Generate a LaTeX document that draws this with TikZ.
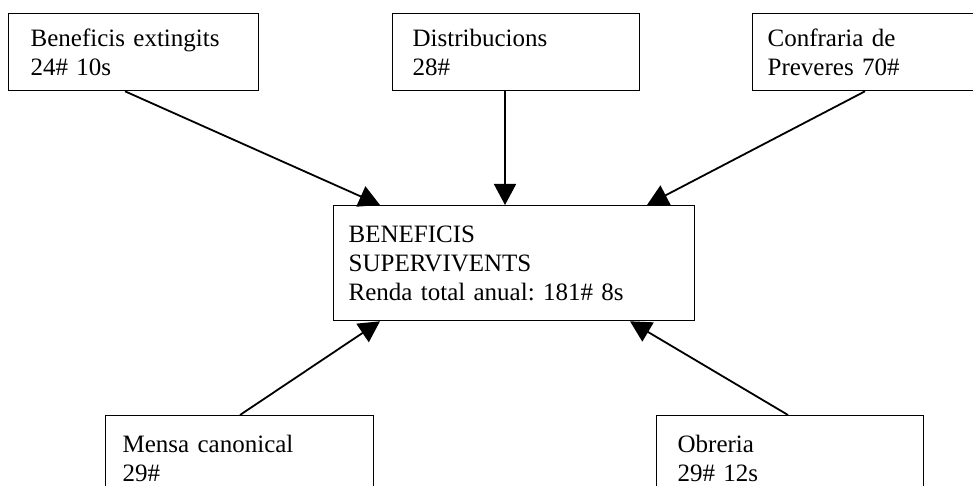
\documentclass[tikz,border=0pt]{standalone}
\usepackage{fontspec}
\setmainfont{Liberation Serif}
\frenchspacing
\usetikzlibrary{arrows.meta}
\begin{document}
\begin{tikzpicture}[x=1pt,y=-1pt]
      \tikzstyle{every node} = [draw, line width=1.3pt, rectangle, anchor=north west, align=left, inner ysep=0pt, font=\fontsize{25}{29}\selectfont]
      \tikzstyle{flow} = [line width=1.8pt, -{Triangle[length=21pt,width=22pt]}]
      \useasboundingbox (0,0) rectangle (973,486);

      \node[inner xsep=22pt, text width=206pt, minimum height=77pt] (ext) at (8,13) {Beneficis extingits\\24\# 10s};
      \node[inner xsep=20pt, text width=207pt, minimum height=77pt] (dist) at (392,13) {Distribucions\\28\#};
      \node[inner xsep=15pt, text width=210pt, minimum height=77pt] (conf) at (752,13) {Confraria de\\Preveres 70\#};
      \node[inner xsep=15pt, text width=331pt, minimum height=115pt] (sup) at (333,205) {BENEFICIS\\SUPERVIVENTS\\Renda total anual: 181\# 8s};
      \node[inner xsep=17pt, text width=234pt, minimum height=86pt] (mensa) at (105,415) {Mensa canonical\\29\#};
      \node[inner xsep=21pt, text width=225pt, minimum height=86pt] (obr) at (656,415) {Obreria\\29\# 12s};

      \draw[flow] ([xshift=117pt]ext.south west) -- ([xshift=47pt]sup.north west);
      \draw[flow] ([xshift=113pt]dist.south west) -- ([xshift=172pt]sup.north west);
      \draw[flow] ([xshift=113pt]conf.south west) -- ([xshift=314pt]sup.north west);
      \draw[flow] ([xshift=135pt]mensa.north west) -- ([xshift=47pt]sup.south west);
      \draw[flow] ([xshift=132pt]obr.north west) -- ([xshift=297pt]sup.south west);
    \end{tikzpicture}
\end{document}
